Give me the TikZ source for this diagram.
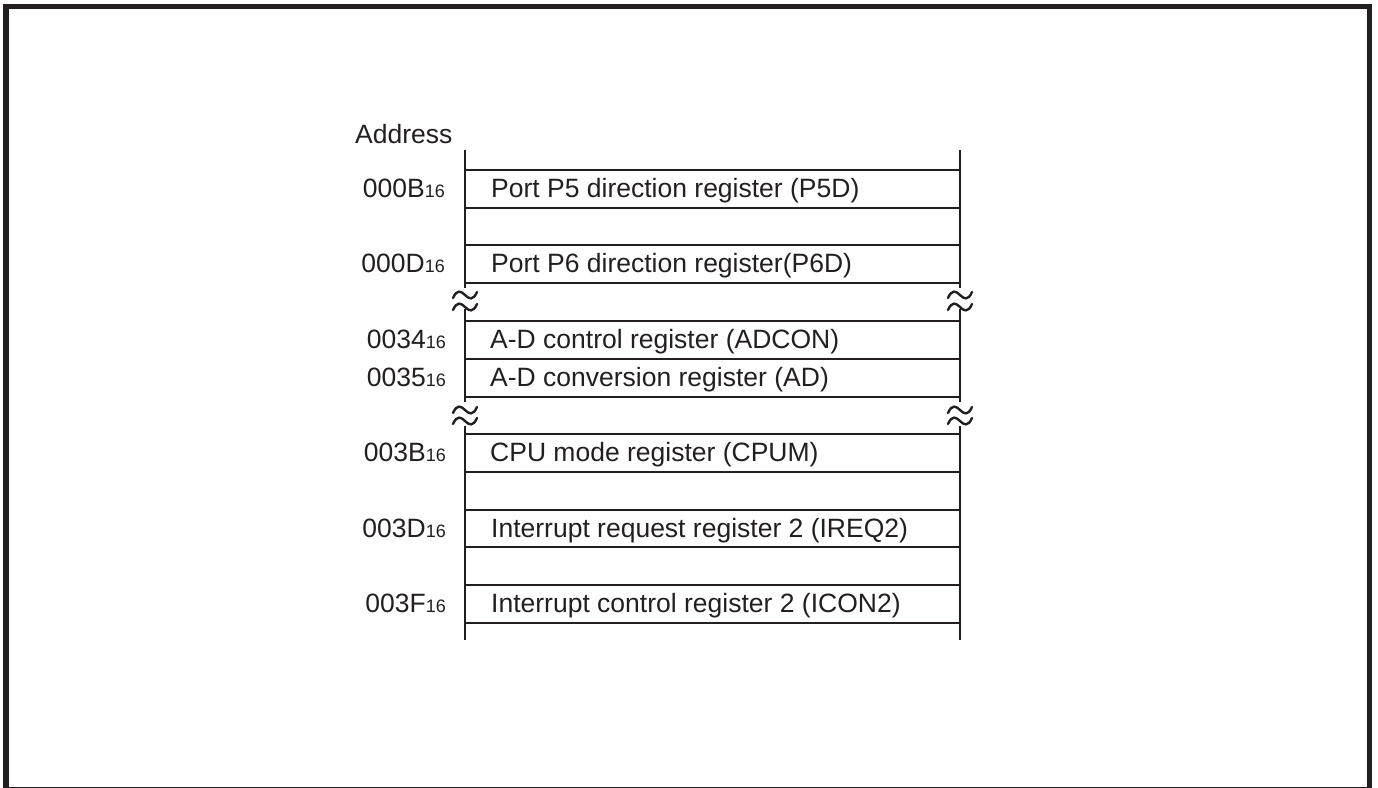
\documentclass[tikz,border=0pt]{standalone}
\usepackage{fontspec}
\setmainfont{Liberation Sans}
\definecolor{ink}{HTML}{231F20}
\newcommand\hexsub[1]{#1{\fontsize{18}{20}\selectfont 16}}
\begin{document}
\begin{tikzpicture}[x=1pt,y=-1pt,
  rule/.style={line width=2.4pt, draw=ink, line cap=butt},
  brk/.style={line width=2.4pt, draw=ink, line cap=round},
  reg/.style={anchor=base west, inner sep=0pt, text=ink, font=\fontsize{26.5}{30}\selectfont},
  addr/.style={anchor=base east, inner sep=0pt, text=ink, font=\fontsize{26.5}{30}\selectfont},
  wave/.pic={\draw[brk] (-12,3) .. controls (-8,-6) and (-4,-4) .. (0,0) .. controls (4,4) and (8,6) .. (12,-3);}]
\useasboundingbox (0,0) rectangle (1378,787);
\draw[line width=5.5pt, draw=ink] (6,6.5) rectangle (1369.5,789.5);

% vertical rails
\foreach \x in {465,960}{
  \draw[rule] (\x,150) -- (\x,288);
  \draw[rule] (\x,309) -- (\x,402);
  \draw[rule] (\x,426) -- (\x,640);
  \pic at (\x,295) {wave};
  \pic at (\x,307) {wave};
  \pic at (\x,410) {wave};
  \pic at (\x,421) {wave};
}
% horizontal lines
\foreach \y in {170,208,245,283,321,359,397,434,472,510,547,585,623}{
  \draw[rule] (465,\y) -- (960,\y);
}

\node[anchor=base west, inner sep=0pt, text=ink, font=\fontsize{26.5}{30}\selectfont] (title) at (355,143) {Address};

\node[addr] (a1) at (445,197.5) {\hexsub{000B}};
\node[addr] (a2) at (445,272.5) {\hexsub{000D}};
\node[addr] (a3) at (446,348.5) {\hexsub{0034}};
\node[addr] (a4) at (446,386.5) {\hexsub{0035}};
\node[addr] (a5) at (446,461.5) {\hexsub{003B}};
\node[addr] (a6) at (446,537) {\hexsub{003D}};
\node[addr] (a7) at (446,612.5) {\hexsub{003F}};

\node[reg] (r1) at (491,197.5) {Port P5 direction register (P5D)};
\node[reg] (r2) at (491,272.5) {Port P6 direction register(P6D)};
\node[reg] (r3) at (490,348.5) {A-D control register (ADCON)};
\node[reg] (r4) at (490,386.5) {A-D conversion register (AD)};
\node[reg] (r5) at (490,461.5) {CPU mode register (CPUM)};
\node[reg] (r6) at (491,537) {Interrupt request register 2 (IREQ2)};
\node[reg] (r7) at (491,612.5) {Interrupt control register 2 (ICON2)};
\end{tikzpicture}
\end{document}
